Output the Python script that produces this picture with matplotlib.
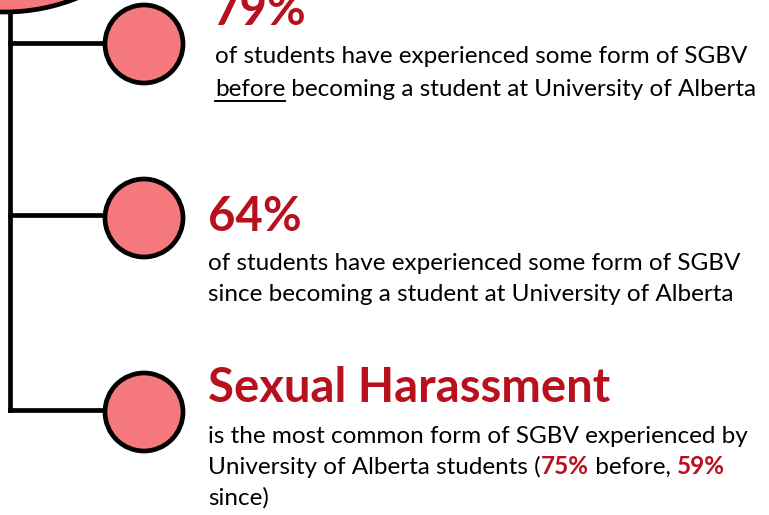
import matplotlib.pyplot as plt
from matplotlib.patches import Circle

# text content
headlines = ['79%', '64%', 'Sexual Harassment']
body_1 = [
    [('of students have experienced some form of SGBV', 'n')],
    [('before', 'u'), (' becoming a student at University of Alberta', 'n')],
]
body_2 = [
    [('of students have experienced some form of SGBV', 'n')],
    [('since becoming a student at University of Alberta', 'n')],
]
harassment_before = '75%'
harassment_since = '59%'
body_3 = [
    [('is the most common form of SGBV experienced by', 'n')],
    [('University of Alberta students (', 'n'), (harassment_before, 'r'),
     (' before, ', 'n'), (harassment_since, 'r')],
    [('since)', 'n')],
]
bodies = [body_1, body_2, body_3]

RED = '#B8101C'
PINK = '#F4787C'
FONT = 'Lato'

fig = plt.figure(figsize=(7.69, 5.15), dpi=100)
ax = fig.add_axes([0, 0, 1, 1])
ax.set_xlim(0, 769)
ax.set_ylim(515, 0)
ax.axis('off')

# big circle at the top, mostly off the picture
ax.add_patch(Circle((5, -181), 193, facecolor=PINK, edgecolor='black', lw=3.4, zorder=3))

# timeline
node_y = [43, 215, 410]
ax.plot([10, 10], [0, node_y[-1]], color='black', lw=3.4, solid_capstyle='projecting', zorder=1)
for y in node_y:
    ax.plot([10, 110], [y, y], color='black', lw=3.4, solid_capstyle='projecting', zorder=1)
for y in [44, 218, 412]:
    ax.add_patch(Circle((144, y), 39, facecolor=PINK, edgecolor='black', lw=3.4, zorder=3))

fig.canvas.draw()
renderer = fig.canvas.get_renderer()


def seg_width(s, weight, size):
    t1 = ax.text(0, 0, s + '|', fontsize=size, family=FONT, fontweight=weight)
    t2 = ax.text(0, 0, '|', fontsize=size, family=FONT, fontweight=weight)
    w = t1.get_window_extent(renderer).width - t2.get_window_extent(renderer).width
    t1.remove()
    t2.remove()
    return w


def draw_line(x, y, runs, size):
    for s, kind in runs:
        weight = 'bold' if kind == 'r' else 'normal'
        color = RED if kind == 'r' else 'black'
        ax.text(x, y, s, fontsize=size, family=FONT, fontweight=weight,
                color=color, va='baseline', ha='left')
        w = seg_width(s, weight, size)
        if kind == 'u':
            ax.plot([x, x + w], [y + 5, y + 5], color='black', lw=1.4)
        x += w


head_x = [213, 208, 208]
head_base = [25, 231, 402]
body_x = [215, 208, 208]
body_base = [[63, 96], [270, 301], [443, 474, 505]]

for i in range(3):
    ax.text(head_x[i], head_base[i], headlines[i], fontsize=34, family=FONT,
            fontweight='bold', color=RED, va='baseline', ha='left')
    for line, yb in zip(bodies[i], body_base[i]):
        draw_line(body_x[i], yb, line, 17.5)

fig.savefig('out.png', dpi=100)
